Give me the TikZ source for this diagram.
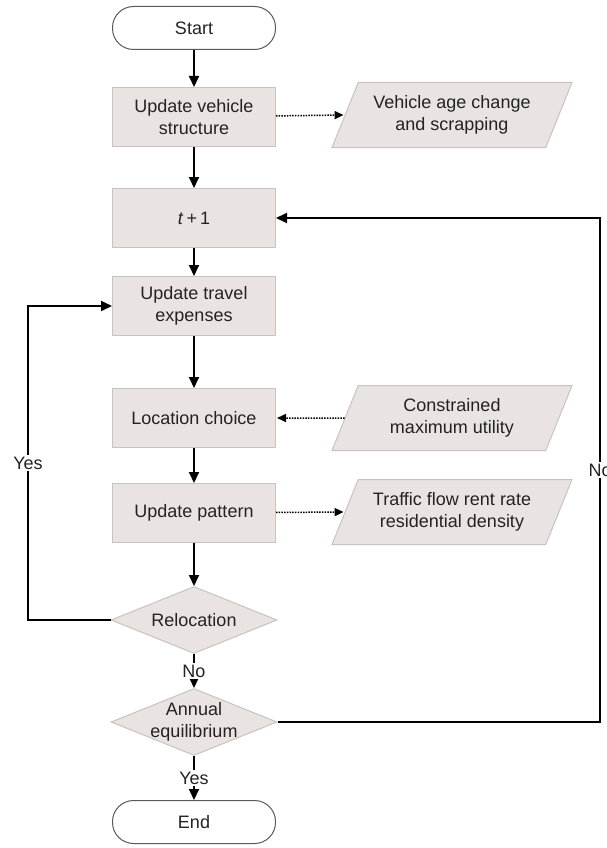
\documentclass[tikz,border=0pt]{standalone}
\usepackage{fontspec}
\setmainfont{Liberation Sans}
\usepackage{tikz}
\usetikzlibrary{arrows,arrows.meta,shapes.geometric}

\definecolor{boxfill}{RGB}{233,228,226}
\definecolor{boxline}{RGB}{200,195,193}
\definecolor{termline}{RGB}{90,90,90}
\definecolor{txt}{RGB}{35,35,35}

\begin{document}
\begin{tikzpicture}[x=1pt,y=1pt,>={Triangle[length=11pt,width=10pt]},node distance=95pt,
                    every node/.style={font=\fontsize{18}{22}\selectfont,text=txt,align=center},
                    terminal/.style={draw=termline,line width=1pt,fill=white,rounded corners=21pt,
                                     minimum width=163pt,minimum height=43pt},
                    process/.style={draw=boxline,line width=1pt,fill=boxfill,
                                    minimum width=163pt,minimum height=59pt},
                    inout/.style={draw=boxline,line width=1pt,fill=boxfill,trapezium,
                                  trapezium left angle=60,trapezium right angle=120,
                                  trapezium stretches body,minimum width=240pt,minimum height=65pt,
                                  inner xsep=0pt},
                    decision/.style={draw=boxline,line width=1pt,fill=boxfill,diamond,aspect=2.4,
                                     inner sep=-20pt,minimum width=166pt,minimum height=67pt},
                    flow/.style={->,line width=2pt,black},
                    info/.style={->,line width=1.5pt,black,dash pattern=on 1.5pt off 1.2pt,
                                 >={Triangle[length=9pt,width=8pt]},shorten >=1pt}]
%  \fill[white] (0,0) rectangle (607,-848);
  \useasboundingbox (0,0) rectangle (607,-848);

  \node[terminal]  (start)                                       at (194,-28)  {Start};
  \node[process]   (vehicle) [below of=start,node distance=89pt]              {Update vehicle\\structure};
  \node[process]   (tnext)   [below of=vehicle,node distance=101pt]           {\textit{t}\,+\,1};
  \node[process]   (travel)  [below of=tnext,node distance=88pt]              {Update travel\\expenses};
  \node[process]   (location)[below of=travel,node distance=112pt]            {Location choice};
  \node[process]   (pattern) [below of=location,node distance=95pt]           {Update pattern};
  \node[decision]  (reloc)   [below of=pattern,node distance=107pt]           {Relocation};
  \node[decision]  (annual)  [below of=reloc,node distance=102pt]             {Annual\\equilibrium};
  \node[terminal]  (end)     [below of=annual,node distance=100pt]            {End};

  \node[inout]     (aging)                                       at (452,-115) {Vehicle age change\\and scrapping};
  \node[inout]     (utility)                                     at (452,-418) {Constrained\\maximum utility};
  \node[inout]     (traffic)                                     at (452,-512) {Traffic flow rent rate\\residential density};

  \coordinate (leftrail)  at (28,0);
  \coordinate (rightrail) at (600,0);

  \path (start)    edge[flow] (vehicle)
        (vehicle)  edge[flow] (tnext)
        (tnext)    edge[flow] (travel)
        (travel)   edge[flow] (location)
        (location) edge[flow] (pattern)
        (pattern)  edge[flow] (reloc)
        (vehicle)  edge[info] (aging.west)
        (utility.west) edge[info] (location)
        (pattern)  edge[info] (traffic.west);

  \draw[flow] (reloc) -- node[fill=white,inner sep=2pt] {No} (annual);
  \draw[flow] (annual) -- node[fill=white,inner sep=2pt] {Yes} (end);

  \draw[flow] (reloc.west) -- (reloc.west -| leftrail)
              |- node[pos=0.25,fill=white,inner sep=2pt] {Yes} (travel.west);
  \draw[flow] (annual.east) -- (annual.east -| rightrail)
              |- node[pos=0.25,fill=white,inner sep=2pt] {No} (tnext.east);

\end{tikzpicture}
\end{document}
